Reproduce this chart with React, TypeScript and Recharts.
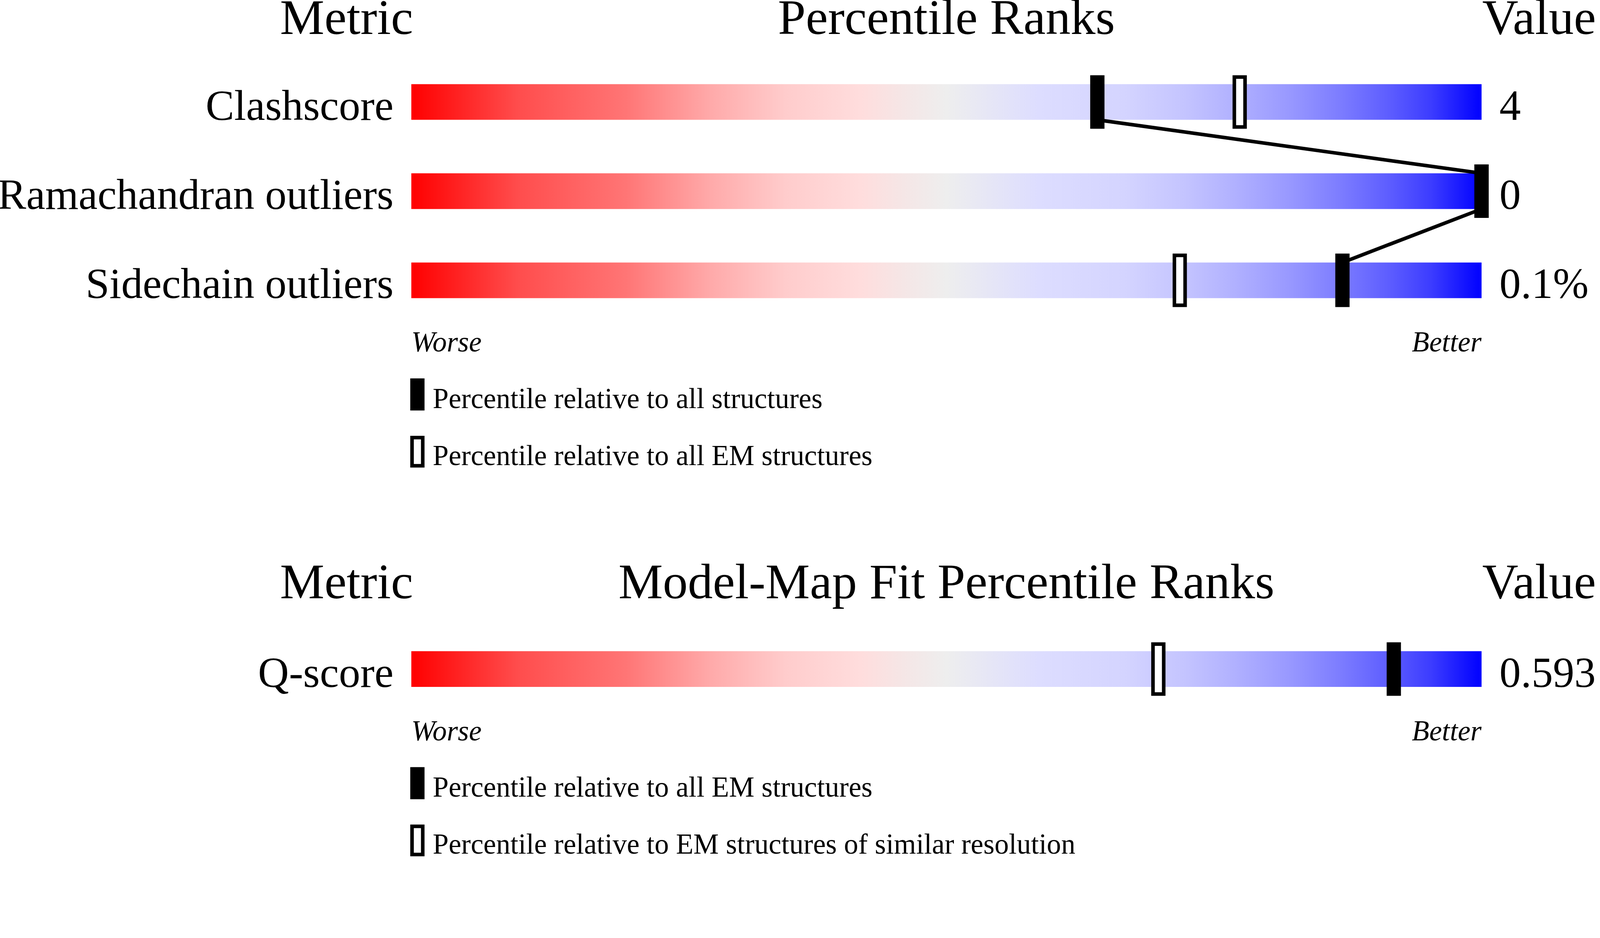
import React from 'react'
import { ComposedChart, Scatter, XAxis, YAxis, ReferenceArea } from 'recharts'

const serif = "'Liberation Serif', 'Times New Roman', Times, serif"

// Geometry quality section
const geometryMetrics = ['Clashscore', 'Ramachandran outliers', 'Sidechain outliers']
const geometryValues = ['4', '0', '0.1%']
const geometryAllPct = [64.1, 100, 87.0]
const geometryEmPct = [77.4, 100, 71.8]
const geometryLegend = ['Percentile relative to all structures', 'Percentile relative to all EM structures']

// Model-map fit section
const fitMetrics = ['Q-score']
const fitValues = ['0.593']
const fitEmPct = [91.8]
const fitSimilarPct = [69.8]
const fitLegend = ['Percentile relative to all EM structures', 'Percentile relative to EM structures of similar resolution']

const scaleEndTicks = [0, 100]
const scaleEndLabels = ['Worse', 'Better']

// red -> grey -> blue slider
const sliderOffsets = [0, 0.1, 0.2, 0.28, 0.35, 0.42, 0.46, 0.5, 0.586, 0.666, 0.723, 0.771, 0.819, 0.867, 0.915, 0.953, 1]
const sliderColors = ['#ff0000', '#ff4d4d', '#ff7575', '#ffaaaa', '#ffcccc', '#ffdddd', '#f5e6e6', '#eeeeee', '#ddddff', '#d4d4ff', '#c4c4ff', '#b0b0ff', '#9999ff', '#7d7dff', '#5c5cff', '#3c3cff', '#0000ff']

const W = 4485
const H = 2402
const BAR_HALF = 0.2

const FilledMarker = (p: any) => (
    <rect x={p.cx - 20} y={p.cy - 75} width={40} height={150} fill="#000" />
)

const OpenMarker = (p: any) => (
    <rect x={p.cx - 15} y={p.cy - 70} width={30} height={140} fill="#fff" stroke="#000" strokeWidth={10} />
)

type SectionProps = {
    top: number
    height: number
    marginTop: number
    marginBottom: number
    headerY: number
    title: string
    metrics: string[]
    values: string[]
    filled: number[]
    open: number[]
    legend: string[]
    connect?: boolean
}

function Section(p: SectionProps) {
    const n = p.metrics.length
    const rows = p.metrics.map((_, i) => i)
    const filledData = p.filled.map((pct, row) => ({ pct, row }))
    const openData = p.open.map((pct, row) => ({ pct, row }))
    const connector = p.connect
        ? p.filled.flatMap((pct, i) => {
              const pts = []
              if (i > 0) pts.push({ pct, row: i - BAR_HALF })
              if (i < n - 1) pts.push({ pct, row: i + BAR_HALF })
              return pts
          })
        : []
    const plotBottom = p.marginTop + (n + 0.6) * 250

    const metricTick = (t: any) => (
        <text x={t.x} y={t.y + 50} textAnchor="end" fontSize={120} fontFamily={serif} fill="#000">
            {p.metrics[t.payload.value]}
        </text>
    )
    const valueTick = (t: any) => (
        <text x={t.x} y={t.y + 50} textAnchor="start" fontSize={120} fontFamily={serif} fill="#000">
            {p.values[t.payload.value]}
        </text>
    )
    const endTick = (t: any) => (
        <text
            x={t.x}
            y={t.y + 50}
            textAnchor={t.payload.value === 0 ? 'start' : 'end'}
            fontSize={80}
            fontStyle="italic"
            fontFamily={serif}
            fill="#000"
        >
            {scaleEndLabels[scaleEndTicks.indexOf(t.payload.value)]}
        </text>
    )

    return (
        <div style={{ position: 'absolute', left: 0, top: p.top, width: W, height: p.height }}>
            <ComposedChart
                width={W}
                height={p.height}
                margin={{ top: p.marginTop, right: 132, bottom: p.marginBottom, left: 953 }}
            >
                <XAxis
                    type="number"
                    dataKey="pct"
                    domain={[0, 100]}
                    ticks={scaleEndTicks}
                    interval={0}
                    tick={endTick}
                    axisLine={false}
                    tickLine={false}
                    tickSize={0}
                    tickMargin={0}
                    height={100}
                />
                <YAxis
                    yAxisId="metric"
                    type="number"
                    dataKey="row"
                    domain={[-1, n - 0.4]}
                    reversed
                    ticks={rows}
                    interval={0}
                    tick={metricTick}
                    axisLine={false}
                    tickLine={false}
                    tickSize={0}
                    tickMargin={50}
                    width={200}
                />
                <YAxis
                    yAxisId="value"
                    orientation="right"
                    type="number"
                    dataKey="row"
                    domain={[-1, n - 0.4]}
                    reversed
                    ticks={rows}
                    interval={0}
                    tick={valueTick}
                    axisLine={false}
                    tickLine={false}
                    tickSize={0}
                    tickMargin={50}
                    width={200}
                />
                {rows.map((i) => (
                    <ReferenceArea
                        key={`slider-${i}`}
                        yAxisId="metric"
                        x1={0}
                        x2={100}
                        y1={i - BAR_HALF}
                        y2={i + BAR_HALF}
                        fill="url(#sliderGradient)"
                        fillOpacity={1}
                        stroke="none"
                        ifOverflow="visible"
                    />
                ))}
                {p.connect && (
                    <Scatter
                        yAxisId="metric"
                        data={connector}
                        line={{ stroke: '#000', strokeWidth: 10 }}
                        shape={() => <g />}
                        legendType="none"
                        isAnimationActive={false}
                    />
                )}
                <Scatter yAxisId="value" data={openData} shape={OpenMarker} isAnimationActive={false} />
                <Scatter yAxisId="metric" data={filledData} shape={FilledMarker} isAnimationActive={false} />
            </ComposedChart>
            <svg
                width={W}
                height={p.height}
                style={{ position: 'absolute', left: 0, top: 0, overflow: 'visible', pointerEvents: 'none' }}
            >
                <g fontFamily={serif} fill="#000">
                    <text x={1158} y={p.headerY} textAnchor="end" fontSize={140}>Metric</text>
                    <text x={2653} y={p.headerY} textAnchor="middle" fontSize={140}>{p.title}</text>
                    <text x={4155} y={p.headerY} textAnchor="start" fontSize={140}>Value</text>
                    <rect x={1150} y={plotBottom + 125} width={40} height={90} fill="#000" />
                    <text x={1213} y={plotBottom + 208} fontSize={80}>{p.legend[0]}</text>
                    <rect x={1155} y={plotBottom + 291} width={30} height={79} fill="#fff" stroke="#000" strokeWidth={10} />
                    <text x={1213} y={plotBottom + 368} fontSize={80}>{p.legend[1]}</text>
                </g>
            </svg>
        </div>
    )
}

export default function App() {
    // fit the 4485x2402 drawing into whatever CSS viewport the page really has
    const vw = typeof window !== 'undefined' ? window.innerWidth : W
    const vh = typeof window !== 'undefined' ? window.innerHeight : H
    const s = Math.min(vw / W, vh / H, 1) || 1

    return (
        <div style={{ position: 'absolute', left: 0, top: 0, width: W * s, height: H * s, overflow: 'hidden', background: '#fff' }}>
            <div style={{ position: 'absolute', left: 0, top: 0, width: W, height: H, transform: `scale(${s})`, transformOrigin: '0 0' }}>
                <svg width={0} height={0} style={{ position: 'absolute' }}>
                    <defs>
                        <linearGradient id="sliderGradient" x1="0" y1="0" x2="1" y2="0">
                            {sliderOffsets.map((o, i) => (
                                <stop key={i} offset={o} stopColor={sliderColors[i]} />
                            ))}
                        </linearGradient>
                    </defs>
                </svg>
                <Section
                    top={0}
                    height={1400}
                    marginTop={36}
                    marginBottom={364}
                    headerY={95}
                    title="Percentile Ranks"
                    metrics={geometryMetrics}
                    values={geometryValues}
                    filled={geometryAllPct}
                    open={geometryEmPct}
                    legend={geometryLegend}
                    connect
                />
                <Section
                    top={1400}
                    height={1002}
                    marginTop={226}
                    marginBottom={276}
                    headerY={278}
                    title="Model-Map Fit Percentile Ranks"
                    metrics={fitMetrics}
                    values={fitValues}
                    filled={fitEmPct}
                    open={fitSimilarPct}
                    legend={fitLegend}
                />
            </div>
        </div>
    )
}
